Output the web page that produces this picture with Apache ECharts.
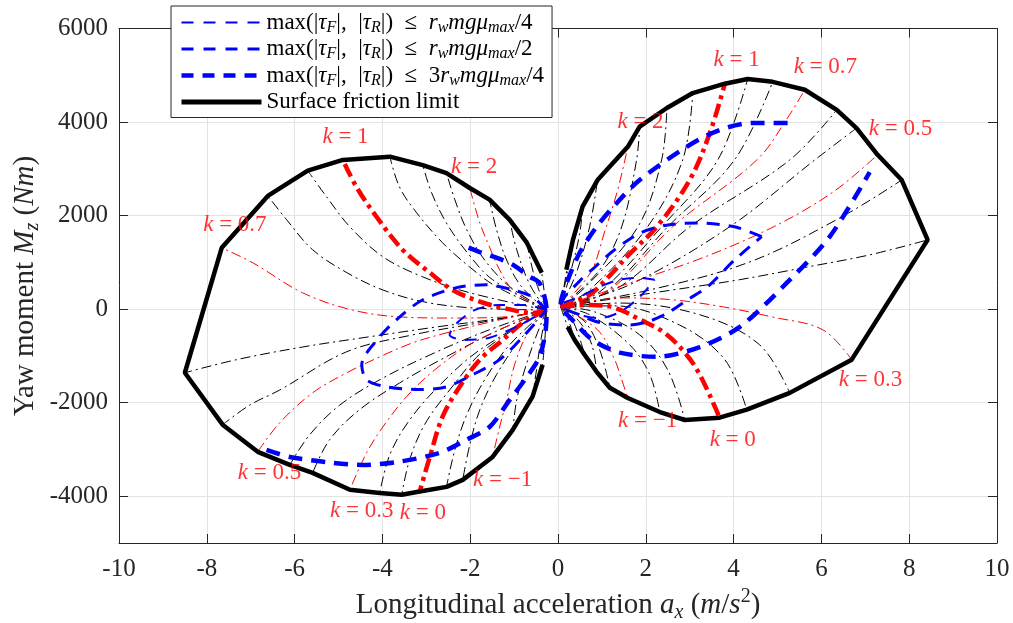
<!DOCTYPE html>
<html>
<head>
<meta charset="utf-8">
<script src="https://cdn.jsdelivr.net/npm/echarts@6/dist/echarts.min.js"></script>
<style>
    html, body { margin: 0; padding: 0; background: #fff; }
    #chart { width: 1013px; height: 623px; }
</style>
</head>
<body>
<div id="chart"></div>
<script>
    // fan start points (both lobes)
    const OR = [0.06, 50];
    const OL = [-0.26, -20];

    // thick black "Surface friction limit"
    const boundaryRight = [[0.19,840],[0.34,1480],[0.56,2190],[0.90,2760],[1.59,3470],[1.86,3900],[2.48,4300],[3.07,4620],[3.80,4820],[4.32,4920],[4.89,4860],[5.62,4690],[6.35,4260],[6.80,3870],[7.28,3300],[7.83,2760],[8.42,1480],
        [6.69,-1080],[5.28,-1790],[4.30,-2150],[3.68,-2320],[2.89,-2370],[2.32,-2200],[1.59,-1900],[1.18,-1680],[0.88,-1340],[0.61,-980],[0.38,-660],[0.22,-380]];
    const boundaryLeft = [[-0.37,780],[-0.71,1420],[-1.10,1910],[-1.56,2340],[-2.01,2590],[-2.54,2910],[-3.08,3080],[-3.83,3260],[-4.90,3190],[-5.70,2960],[-6.61,2420],[-7.66,1310],[-8.50,-1360],
        [-7.64,-2470],[-6.84,-3050],[-6.11,-3330],[-5.59,-3500],[-4.74,-3860],[-4.06,-3930],[-3.56,-3970],[-3.15,-3900],[-2.54,-3800],[-2.17,-3650],[-1.49,-3160],[-1.03,-2580],[-0.58,-1870],[-0.35,-1190]];

    // thin black dash-dot fans
    const fanBlackRight = [
        [OR,[0.20,840]],
        [OR,[0.20,730],[0.34,1480]],
        [OR,[0.27,730],[0.49,1590],[0.56,2190]],
        [OR,[0.40,730],[0.72,1760],[0.90,2760]],
        [OR,[0.95,840],[1.45,1760],[1.79,3190],[1.86,3900]],
        [OR,[0.61,460],[1.82,1760],[2.36,3190],[2.48,4300]],
        [OR,[0.72,410],[2.04,1760],[2.84,3190],[3.07,4620]],
        [OR,[0.95,370],[2.36,1760],[3.64,3190],[4.32,4920]],
        [OR,[1.06,350],[2.50,1760],[4.02,3190],[4.89,4860]],
        [OR,[1.41,480],[3.00,1760],[5.28,3190],[6.35,4260]],
        [OR,[1.63,520],[3.91,1760],[5.85,3190],[6.80,3870]],
        [OR,[2.09,410],[4.37,1010],[6.42,1950],[7.83,2760]],
        [OR,[1.11,200],[2.61,410],[4.14,630],[5.67,900],[7.10,1160],[8.42,1480]],
        [OR,[1.41,130],[3.23,-120],[4.59,-760],[5.28,-1790]],
        [OR,[1.29,70],[2.77,-340],[3.80,-1080],[4.30,-2150]],
        [OR,[0.84,-60],[1.86,-550],[2.50,-1300],[2.89,-2370]],
        [OR,[0.72,-120],[1.63,-760],[2.09,-1400],[2.32,-2200]],
        [OR,[0.61,-270],[0.95,-870],[1.18,-1680]],
        [OR,[0.49,-270],[0.77,-760],[0.88,-1340]],
        [OR,[0.33,-230],[0.61,-980]],
        [OR,[0.22,-190],[0.38,-660]],
        [OR,[0.22,-380]]
    ];
    const fanBlackLeft = [
        [OL,[-0.37,780]],
        [OL,[-0.53,670],[-0.71,1420]],
        [OL,[-0.64,520],[-0.94,1270],[-1.10,1910]],
        [OL,[-0.83,480],[-1.17,1050],[-1.40,1700],[-1.56,2340]],
        [OL,[-1.10,480],[-1.67,1050],[-2.08,1700],[-2.35,2340],[-2.54,2910]],
        [OL,[-1.49,630],[-2.06,1200],[-2.54,1840],[-2.88,2490],[-3.08,3080]],
        [OL,[-1.40,480],[-2.01,900],[-2.63,1420],[-3.22,2060],[-3.61,2610],[-3.83,3260]],
        [OL,[-2.01,350],[-3.08,690],[-3.99,1120],[-4.74,1760],[-5.27,2400],[-5.70,2960]],
        [OL,[-2.01,30],[-3.08,160],[-3.99,410],[-4.81,780],[-5.59,1270],[-6.18,1910],[-6.61,2420]],
        [OL,[-1.26,-190],[-2.76,-380],[-4.29,-590],[-5.82,-810],[-7.32,-1080],[-8.50,-1360]],
        [OL,[-1.78,-290],[-3.31,-550],[-4.81,-910],[-6.34,-1730],[-7.02,-2050],[-7.64,-2470]],
        [OL,[-1.56,-440],[-2.92,-980],[-4.06,-1510],[-4.97,-2050],[-5.66,-2690],[-6.11,-3330]],
        [OL,[-1.33,-440],[-2.47,-980],[-3.61,-1580],[-4.52,-2150],[-5.20,-2790],[-5.59,-3500]],
        [OL,[-1.78,-870],[-2.69,-1620],[-3.38,-2370],[-3.83,-3110],[-4.06,-3930]],
        [OL,[-1.67,-870],[-2.47,-1730],[-3.04,-2470],[-3.38,-3220],[-3.56,-3970]],
        [OL,[-1.10,-760],[-1.67,-1510],[-2.08,-2260],[-2.35,-3010],[-2.54,-3800]],
        [OL,[-0.87,-660],[-1.40,-1400],[-1.78,-2150],[-2.01,-2900],[-2.17,-3650]],
        [OL,[-0.53,-660],[-0.76,-1300],[-0.94,-1940],[-1.03,-2580]],
        [OL,[-0.39,-660],[-0.49,-1300],[-0.58,-1870]],
        [OL,[-0.30,-660],[-0.35,-1190]]
    ];

    // labelled k curves (thin red)
    const redThinRight = [
        [OR,[0.74,780],[1.06,1650],[1.36,2550],[1.59,3470]],                       // k = 2
        [OR,[1.18,410],[2.61,1760],[4.53,3190],[5.23,4090],[5.62,4690]],           // k = 0.7
        [OR,[1.86,630],[3.16,1050],[4.44,1550],[5.51,2060],[6.42,2610],[7.28,3300]], // k = 0.5
        [OR,[1.47,240],[2.61,200],[3.75,50],[4.89,-170],[6.03,-440],[6.69,-1080]], // k = 0.3
        [OR,[0.90,-440],[1.29,-1080],[1.43,-1450],[1.59,-1900]]                    // k = -1
    ];
    const redThinLeft = [
        [OL,[-0.99,370],[-1.33,840],[-1.56,1330],[-1.78,1840],[-2.01,2590]],
        [OL,[-1.26,-170],[-2.40,-190],[-3.54,-170],[-4.68,-20],[-5.82,350],[-6.95,990],[-7.66,1310]],
        [OL,[-1.33,-230],[-2.47,-490],[-3.31,-720],[-4.06,-1020],[-4.81,-1360],[-5.59,-1790],[-6.34,-2430],[-6.84,-3050]],
        [OL,[-1.10,-340],[-2.01,-760],[-2.81,-1300],[-3.45,-1870],[-3.99,-2520],[-4.36,-3070],[-4.74,-3860]],
        [OL,[-0.69,-510],[-0.99,-1190],[-1.17,-1940],[-1.33,-2520],[-1.49,-3160]]
    ];
    // k = 1 and k = 0 (thick red)
    const redThick = [
        [OR,[0.68,280],[1.13,670],[1.63,1180],[2.25,1760],[3.00,2760],[3.46,3770],[3.80,4820]],
        [OR,[0.74,90],[1.29,30],[1.88,-230],[2.43,-510],[2.89,-930],[3.23,-1400],[3.68,-2320]],
        [OL,[-0.58,-80],[-1.26,30],[-1.78,160],[-2.40,410],[-2.92,780],[-3.54,1270],[-4.13,1970],[-4.59,2610],[-4.90,3190]],
        [OL,[-0.80,-290],[-1.26,-660],[-1.78,-1080],[-2.24,-1660],[-2.63,-2300],[-2.92,-3160],[-3.15,-3900]]
    ];

    // torque limit contours
    const blueQuarter = [
        [[2.20,630],[1.86,670],[1.41,630],[0.95,480],[0.49,260],[0.06,90],[0.49,-120],[0.95,-190],[1.41,-60],[1.86,260],[2.20,630]],
        [[-0.26,-20],[-0.76,90],[-1.33,90],[-1.90,-20],[-2.35,-340],[-2.47,-550],[-2.13,-660],[-1.56,-610],[-0.87,-340],[-0.26,-20]]
    ];
    const blueHalf = [
        [[4.64,1550],[4.02,1760],[3.18,1840],[2.50,1800],[1.88,1630],[1.29,1270],[0.84,900],[0.52,630],[0.06,90],[0.49,-120],[0.97,-290],[1.59,-340],[2.04,-270],[2.50,-80],[2.95,200],[3.41,480],[4.02,1050],[4.64,1550]],
        [[-0.26,-20],[-0.58,260],[-1.03,410],[-1.62,520],[-2.31,460],[-3.08,200],[-3.61,-170],[-4.06,-590],[-4.47,-1190],[-4.36,-1510],[-3.90,-1660],[-3.15,-1720],[-2.54,-1660],[-1.94,-1400],[-1.33,-1080],[-0.76,-550],[-0.26,-20]]
    ];
    const blueThreeQuarter = [
        [[5.23,3980],[4.44,3980],[3.68,3830],[2.93,3470],[1.86,2760],[1.34,2270],[0.88,1760],[0.49,1200],[0.20,560],[0.06,90],[0.33,-230],[0.79,-660],[1.41,-930],[2.25,-1020],[3.23,-810],[4.14,-380],[5.21,560],[6.19,1550],[7.10,2930]],
        [[-6.64,-3010],[-6.11,-3160],[-5.20,-3280],[-4.45,-3330],[-3.61,-3260],[-2.69,-3070],[-2.08,-2790],[-1.56,-2520],[-1.10,-1940],[-0.71,-1450],[-0.42,-1020],[-0.28,-440],[-0.26,-20],[-0.42,560],[-0.64,690],[-1.03,950],[-1.26,1050],[-1.78,1220],[-2.08,1330]]
    ];

    // k annotations: x, y, k
    const kLabels = [
        [4.07, 5330, '1'], [6.09, 5180, '0.7'], [1.88, 4000, '2'], [7.80, 3850, '0.5'],
        [7.12, -1510, '0.3'], [2.04, -2390, '\u22121'], [3.98, -2790, '0'],
        [-4.84, 3680, '1'], [-1.91, 3040, '2'], [-7.36, 1800, '0.7'], [-6.57, -3500, '0.5'],
        [-4.47, -4310, '0.3'], [-3.08, -4350, '0'], [-1.26, -3650, '\u22121']
    ];

    const xTicks = { min: -10, max: 10, step: 2 };
    const yRange = { min: -5000, max: 6000 };

    const FONT = 'Liberation Serif';
    const AXIS = '#262626';
    const NAME_Q = 'q', NAME_H = 'h', NAME_T = 't', NAME_S = 'Surface friction limit';

    const series = [];
    function addCurves(list, color, width, dash, name, smooth) {
        list.forEach(function (d) {
            series.push({
                type: 'line',
                name: name,
                data: d,
                symbol: 'none',
                smooth: smooth,
                silent: true,
                lineStyle: { color: color, width: width, type: dash, cap: 'butt' }
            })
        })
    }

    const dashDot = [10, 4, 2, 4];
    addCurves(fanBlackRight, '#000', 1, dashDot, undefined, 0.35);
    addCurves(fanBlackLeft, '#000', 1, dashDot, undefined, 0.35);
    addCurves(redThinRight, '#ff0000', 1, dashDot, undefined, 0.35);
    addCurves(redThinLeft, '#ff0000', 1, dashDot, undefined, 0.35);
    addCurves(redThick, '#ff0000', 4.5, [14, 5, 4, 5], undefined, 0.35);
    addCurves(blueQuarter, '#0000ff', 2, [12, 9], NAME_Q, 0.3);
    addCurves(blueHalf, '#0000ff', 3, [13, 9], NAME_H, 0.3);
    addCurves(blueThreeQuarter, '#0000ff', 4.5, [14, 9], NAME_T, 0.3);
    addCurves([boundaryRight, boundaryLeft], '#000', 4.5, 'solid', NAME_S, false);

    series.push({
        type: 'scatter',
        symbolSize: 1,
        itemStyle: { color: 'rgba(0,0,0,0)' },
        silent: true,
        data: kLabels.map(function (d) { return { name: d[2], value: [d[0], d[1]] } }),
        label: {
            show: true,
            position: 'inside',
            formatter: function (p) { return '{i|k}{n| = ' + p.name + '}' },
            rich: {
                i: { fontFamily: FONT, fontSize: 23, fontStyle: 'italic', color: '#ff0000' },
                n: { fontFamily: FONT, fontSize: 23, color: '#ff0000' }
            }
        },
        z: 5
    });

    const legendRich = {
        n: { fontFamily: FONT, fontSize: 23, lineHeight: 26, color: '#000' },
        i: { fontFamily: FONT, fontSize: 23, lineHeight: 26, fontStyle: 'italic', color: '#000' },
        s: { fontFamily: FONT, fontSize: 16, lineHeight: 15, fontStyle: 'italic', verticalAlign: 'bottom', color: '#000' }
    };
    const legendText = {};
    const maxPart = '{n|max(|}{i|\u03c4}{s|F}{n||,  |}{i|\u03c4}{s|R}{n||)  \u2264  ';
    legendText[NAME_Q] = maxPart + '}{i|r}{s|w}{i|mg\u03bc}{s|max}{n|/4}';
    legendText[NAME_H] = maxPart + '}{i|r}{s|w}{i|mg\u03bc}{s|max}{n|/2}';
    legendText[NAME_T] = maxPart + '3}{i|r}{s|w}{i|mg\u03bc}{s|max}{n|/4}';
    legendText[NAME_S] = '{n|Surface friction limit}';

    const nameRich = {
        n: { fontFamily: FONT, fontSize: 29, lineHeight: 36, color: AXIS },
        i: { fontFamily: FONT, fontSize: 29, lineHeight: 36, fontStyle: 'italic', color: AXIS },
        sb: { fontFamily: FONT, fontSize: 20, lineHeight: 18, fontStyle: 'italic', verticalAlign: 'bottom', color: AXIS },
        sp: { fontFamily: FONT, fontSize: 20, lineHeight: 16, verticalAlign: 'top', color: AXIS }
    };

    const tickLabel = { color: AXIS, fontFamily: FONT, fontSize: 25, formatter: function (v) { return String(v) } };
    const frame = { show: true, onZero: false, lineStyle: { color: AXIS, width: 1 } };

    const chart = echarts.init(document.getElementById('chart'), null, { renderer: 'canvas' });
    chart.setOption({
        animation: false,
        backgroundColor: '#fff',
        grid: { left: 119, right: 16, top: 28.5, bottom: 80, containLabel: false, outerBoundsMode: 'none' },
        xAxis: [{
            type: 'value', min: xTicks.min, max: xTicks.max, interval: xTicks.step,
            axisLine: frame,
            axisTick: { inside: true, length: 9, lineStyle: { color: AXIS } },
            axisLabel: Object.assign({ margin: 14 }, tickLabel),
            splitLine: { show: true, lineStyle: { color: '#e3e3e3', width: 1 } },
            name: '{n|Longitudinal acceleration }{i|a}{sb|x}{n| (}{i|m}{n|/}{i|s}{sp|2}{n|)}',
            nameLocation: 'middle',
            nameGap: 43,
            nameTextStyle: { rich: nameRich }
        }, {
            type: 'value', min: xTicks.min, max: xTicks.max, interval: xTicks.step, position: 'top',
            axisLine: frame,
            axisTick: { inside: true, length: 9, lineStyle: { color: AXIS } },
            axisLabel: { show: false },
            splitLine: { show: false }
        }],
        yAxis: [{
            type: 'value', min: yRange.min, max: yRange.max, splitNumber: 5,
            axisLine: frame,
            axisTick: { inside: true, length: 9, lineStyle: { color: AXIS } },
            axisLabel: Object.assign({ margin: 11, showMinLabel: false }, tickLabel),
            splitLine: { show: true, lineStyle: { color: '#e3e3e3', width: 1 } }
        }, {
            type: 'value', min: yRange.min, max: yRange.max, splitNumber: 5, position: 'right',
            axisLine: frame,
            axisTick: { inside: true, length: 9, lineStyle: { color: AXIS } },
            axisLabel: { show: false },
            splitLine: { show: false }
        }],
        legend: {
            data: [
                { name: NAME_Q, lineStyle: { width: 2, type: [12, 10] }, itemStyle: { opacity: 0 } },
                { name: NAME_H, lineStyle: { width: 3, type: [12, 10] }, itemStyle: { opacity: 0 } },
                { name: NAME_T, lineStyle: { width: 4.5, type: [12, 9] }, itemStyle: { opacity: 0 } },
                { name: NAME_S, lineStyle: { width: 5, type: 'solid' }, itemStyle: { opacity: 0 } }
            ],
            orient: 'vertical',
            left: 171,
            top: 6,
            padding: [5, 8, 4, 8],
            itemGap: 2,
            itemWidth: 80,
            itemHeight: 14,
            backgroundColor: '#fff',
            borderColor: AXIS,
            borderWidth: 1,
            borderRadius: 0,
            selectedMode: false,
            formatter: function (name) { return legendText[name] },
            textStyle: { fontFamily: FONT, fontSize: 23, color: '#000', rich: legendRich },
            z: 10
        },
        graphic: [{
            type: 'text',
            x: 25,
            y: 286,
            rotation: Math.PI / 2,
            style: {
                text: '{n|Yaw moment }{i|M}{sb|z}{n| (}{i|Nm}{n|)}',
                rich: nameRich,
                fill: AXIS,
                align: 'center',
                verticalAlign: 'middle'
            }
        }],
        series: series
    });

    window.addEventListener('resize', () => {
        chart.resize()
    })
</script>
</body>
</html>
